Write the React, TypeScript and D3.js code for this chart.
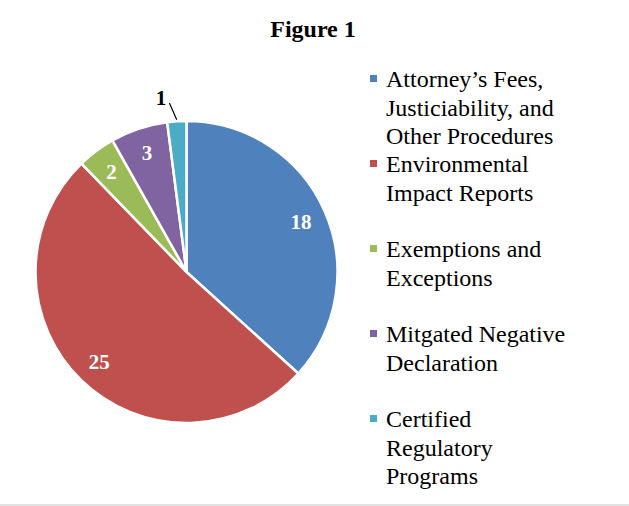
import React, { useEffect, useRef } from 'react';
import * as d3 from 'd3';

const categories = [
  'Attorney’s Fees, Justiciability, and Other Procedures',
  'Environmental Impact Reports',
  'Exemptions and Exceptions',
  'Mitgated Negative Declaration',
  'Certified Regulatory Programs',
];
const legendLines = [
  ['Attorney’s Fees,', 'Justiciability, and', 'Other Procedures'],
  ['Environmental', 'Impact Reports'],
  ['Exemptions and', 'Exceptions'],
  ['Mitgated Negative', 'Declaration'],
  ['Certified', 'Regulatory', 'Programs'],
];
const values = [18, 25, 2, 3, 1];
const colors = ['#4F81BD', '#C0504D', '#9BBB59', '#8064A2', '#4BACC6'];

const FONT = "'Liberation Serif', 'Times New Roman', serif";

export default function App() {
  const svgRef = useRef<SVGSVGElement>(null);

  useEffect(() => {
    if (!svgRef.current) return;
    const svg = d3.select(svgRef.current);
    svg.selectAll('*').remove();

    const width = 629;
    const height = 506;
    const cx = 186.5;
    const cy = 272;
    const radius = 151;

    svg.attr('width', width).attr('height', height);

    svg.append('rect').attr('width', width).attr('height', height).attr('fill', '#ffffff');
    svg.append('line')
      .attr('x1', 0).attr('x2', width)
      .attr('y1', 505).attr('y2', 505)
      .attr('stroke', '#d9d9d9').attr('stroke-width', 1.5);

    // Title
    svg.append('text')
      .attr('x', 313)
      .attr('y', 37)
      .attr('text-anchor', 'middle')
      .style('font-family', FONT)
      .style('font-weight', 'bold')
      .style('font-size', '24px')
      .text('Figure 1');

    const pie = d3.pie<number>().sort(null).value(d => d);
    const arcs = pie(values);
    const arc = d3.arc<d3.PieArcDatum<number>>().innerRadius(0).outerRadius(radius);

    const g = svg.append('g').attr('transform', `translate(${cx}, ${cy})`);

    g.selectAll('path')
      .data(arcs)
      .enter()
      .append('path')
      .attr('d', arc)
      .attr('fill', (_, i) => colors[i])
      .attr('stroke', '#ffffff')
      .attr('stroke-width', 2.5)
      .attr('stroke-linejoin', 'round');

    // the smallest slice gets its label outside with a leader line
    const outsideTweak: Record<number, { da: number; rf: number }> = {
      4: { da: -4.7, rf: 1.165 },
    };

    arcs.forEach((a, i) => {
      const mid = (a.startAngle + a.endAngle) / 2;
      const tweak = outsideTweak[i];
      const ang = mid + ((tweak ? tweak.da : 0) * Math.PI) / 180;
      const r = radius * (tweak ? tweak.rf : 0.83);
      const x = r * Math.sin(ang);
      const y = -r * Math.cos(ang);

      if (tweak) {
        const r0 = radius * 1.125;
        const r1 = radius * 1.01;
        const a0 = mid - (2.1 * Math.PI) / 180;
        g.append('line')
          .attr('x1', r0 * Math.sin(a0))
          .attr('y1', -r0 * Math.cos(a0))
          .attr('x2', r1 * Math.sin(mid))
          .attr('y2', -r1 * Math.cos(mid))
          .attr('stroke', '#000000')
          .attr('stroke-width', 1.2);
      }

      g.append('text')
        .attr('x', x)
        .attr('y', y)
        .attr('dy', '0.35em')
        .attr('text-anchor', 'middle')
        .style('font-family', FONT)
        .style('font-weight', 'bold')
        .style('font-size', '21px')
        .style('fill', tweak ? '#000000' : '#ffffff')
        .text(values[i]);
    });

    // Legend
    const legend = svg.append('g').attr('transform', 'translate(370, 87)');
    const lineH = 28.5;
    const slot = 85;

    categories.forEach((cat, i) => {
      const item = legend.append('g')
        .attr('transform', `translate(0, ${i * slot})`)
        .attr('aria-label', cat);

      item.append('rect')
        .attr('x', 0)
        .attr('y', -12)
        .attr('width', 7)
        .attr('height', 7)
        .attr('fill', colors[i]);

      const t = item.append('text')
        .style('font-family', FONT)
        .style('font-size', '24px')
        .style('fill', '#000000');

      legendLines[i].forEach((ln, j) => {
        t.append('tspan')
          .attr('x', 16)
          .attr('y', j * lineH)
          .text(ln);
      });
    });
  }, []);

  return (
    <div style={{ position: 'absolute', left: 0, top: 0 }}>
      <svg ref={svgRef} style={{ display: 'block' }}></svg>
    </div>
  );
}
